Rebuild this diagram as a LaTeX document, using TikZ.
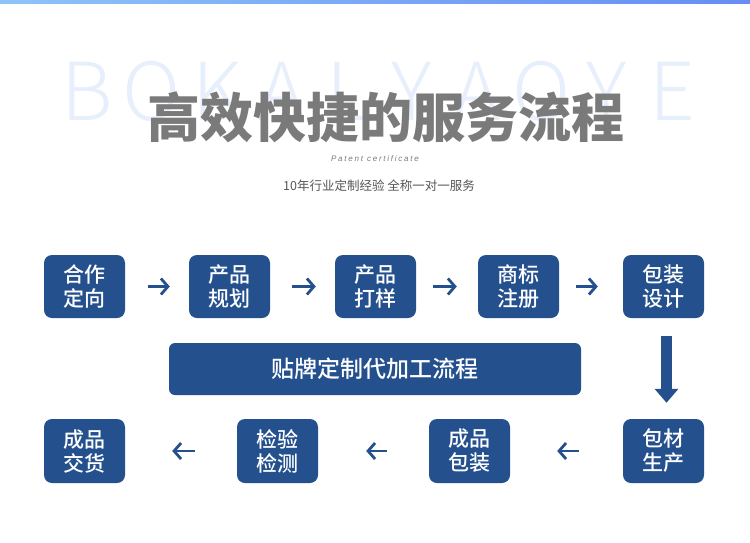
\documentclass[tikz,border=0pt]{standalone}
\usepackage{fontspec}
\setmainfont{Noto Sans CJK SC}
\newfontfamily\bgfont{Noto Sans CJK SC}[UprightFont={* Light}]
\newfontfamily\medfont{Noto Sans CJK SC}[UprightFont={* Medium}]
\newfontfamily\patfont{Liberation Sans}[LetterSpace=22]
\usetikzlibrary{arrows.meta}
\definecolor{boxblue}{RGB}{36,80,142}
\definecolor{titlegray}{RGB}{122,122,122}
\definecolor{subgray}{RGB}{85,85,85}
\definecolor{bglight}{RGB}{232,239,252}
\definecolor{stripL}{RGB}{140,196,248}
\definecolor{stripR}{RGB}{104,140,244}
\tikzset{
  stepbox/.style={fill=boxblue, rounded corners=8pt, minimum width=81pt, minimum height=63pt,
    inner sep=0pt, text=white, align=center, font=\fontsize{21}{24}\medfont},
  banner/.style={fill=boxblue, rounded corners=6pt, minimum width=412pt, minimum height=52pt,
    inner sep=0pt, text=white, font=\fontsize{23}{26}\medfont},
  harrow/.style={draw=boxblue, line width=2.8pt, -{Straight Barb[length=7pt,width=16pt]}},
  varrow/.style={draw=boxblue, line width=11pt, -{Triangle[length=14pt,width=23pt]}},
  bgletter/.style={text=bglight, inner sep=0pt, font=\fontsize{80}{80}\bgfont},
}
\begin{document}
\begin{tikzpicture}[x=1pt,y=-1pt]
\useasboundingbox (0,0) rectangle (750,542);
\fill[white] (0,0) rectangle (750,542);
\shade[left color=stripL, right color=stripR] (0,0) rectangle (750,3);
% background letters
\foreach \ch [count=\i from 0] in {B,O,K,A,L,Y,A,O,Y,E}{
  \node[bgletter] (bg\i) at (87+65*\i,91) {\ch};
}
\node[text=titlegray, inner sep=0pt, font=\fontsize{53}{53}\selectfont\bfseries] (title) at (386,117) {高效快捷的服务流程};
\node[text=titlegray, inner sep=0pt, font=\fontsize{8}{8}\patfont\itshape] (pat) at (375,159) {Patent certificate};
\node[text=subgray, inner sep=0pt, font=\fontsize{12.5}{13}\selectfont] (sub) at (379,186) {10年行业定制经验 全称一对一服务};
% top row
\node[stepbox] (t1) at (84.5,286.5) {合作\\定向};
\node[stepbox] (t2) at (229.5,286.5) {产品\\规划};
\node[stepbox] (t3) at (375.5,286.5) {产品\\打样};
\node[stepbox] (t4) at (518.5,286.5) {商标\\注册};
\node[stepbox] (t5) at (663.5,286.5) {包装\\设计};
% banner
\node[banner] (ban) at (375,369) {贴牌定制代加工流程};
% bottom row
\node[stepbox, minimum height=64pt] (b4) at (663.5,451) {包材\\生产};
\node[stepbox, minimum height=64pt] (b3) at (469.5,451) {成品\\包装};
\node[stepbox, minimum height=64pt] (b2) at (277.5,451) {检验\\检测};
\node[stepbox, minimum height=64pt] (b1) at (84.5,451) {成品\\交货};
% arrows
\draw[harrow, shorten <=23pt, shorten >=19pt] (t1) -- (t2);
\draw[harrow, shorten <=22pt, shorten >=19pt] (t2) -- (t3);
\draw[harrow, shorten <=17pt, shorten >=21pt] (t3) -- (t4);
\draw[harrow, shorten <=17pt, shorten >=25pt] (t4) -- (t5);
\draw[varrow, shorten <=18pt, shorten >=16pt] ([xshift=3pt]t5.south) -- ([xshift=3pt]b4.north);
\draw[harrow, shorten <=44pt, shorten >=47pt] (b4) -- (b3);
\draw[harrow, shorten <=42pt, shorten >=48pt] (b3) -- (b2);
\draw[harrow, shorten <=42pt, shorten >=47pt] (b2) -- (b1);
\end{tikzpicture}
\end{document}
